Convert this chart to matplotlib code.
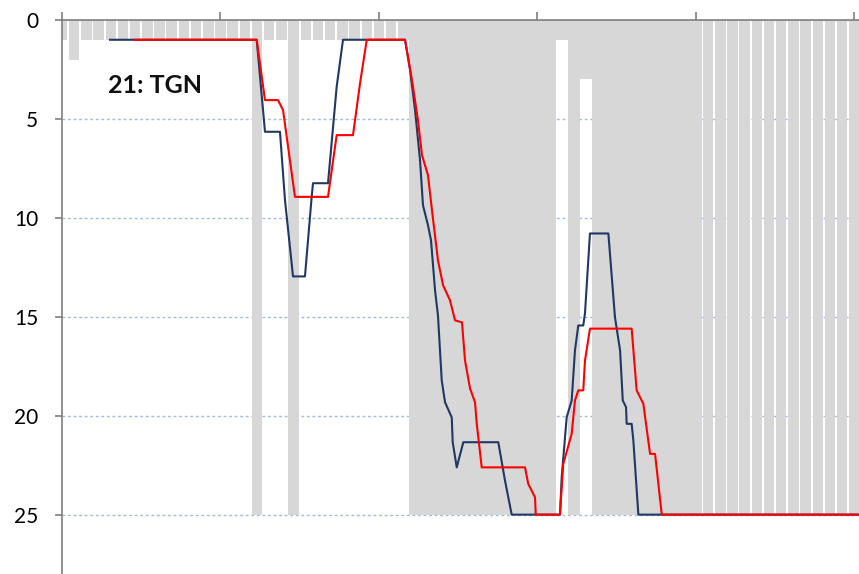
import matplotlib.pyplot as plt
from matplotlib.ticker import MultipleLocator

# one grey column per lap (depth measured from the top, 0 = top of chart)
laps = list(range(66))
grey_depth = [1, 2, 1, 1, 1, 1, 1, 1, 1, 1, 1, 1, 1, 1, 1, 1,
              25, 1, 1, 25, 1, 1, 1, 1, 1, 1, 1, 1, 1,
              25, 25, 25, 25, 25, 25, 25, 25, 25, 25, 25, 25,
              1, 25, 3,
              25, 25, 25, 25, 25, 25, 25, 25, 25, 25, 25, 25, 25, 25,
              25, 25, 25, 25, 25, 25, 25, 25]

# position traces (x in laps)
blue_x = [3.94, 15.97, 16.65, 17.88, 18.29, 18.95, 19.93, 20.48, 20.59, 21.82,
          22.53, 23.05, 28.14, 28.55, 28.96, 29.37, 29.61, 30.02, 30.27, 30.60,
          30.84, 31.15, 31.42, 31.83, 31.97, 32.05, 32.38, 32.92, 35.79, 36.34,
          36.89, 40.85, 40.99, 41.40, 41.81, 42.08, 42.35, 42.76, 42.90, 43.31,
          44.82, 45.36, 45.78, 46.00, 46.27, 46.32, 46.73, 46.87, 47.28, 66.0]
blue_y = [1, 1, 5.65, 5.65, 9.1, 12.96, 12.96, 8.94, 8.25, 8.25,
          3.38, 1, 1, 2.53, 4.55, 7.09, 9.36, 10.37, 11.13, 13.66,
          14.93, 18.22, 19.32, 19.89, 20.08, 21.34, 22.61, 21.34, 21.34, 23.28,
          25, 25, 23.11, 20.08, 19.23, 16.7, 15.44, 15.44, 14.83, 10.79,
          10.79, 15.02, 16.7, 19.23, 19.57, 20.41, 20.41, 21.26, 25, 25]

red_x = [5.99, 15.97, 16.65, 17.72, 18.13, 19.11, 21.82, 22.53, 23.87, 24.45,
         25.0, 28.14, 28.71, 29.20, 29.53, 30.02, 30.35, 30.84, 31.26, 31.83,
         32.24, 32.81, 33.06, 33.47, 33.88, 34.02, 34.43, 37.98, 38.25, 38.53,
         38.80, 38.86, 40.85, 41.12, 41.81, 42.08, 42.35, 42.76, 42.90, 43.31,
         46.73, 47.14, 47.69, 48.24, 48.65, 49.20, 66.0]
red_y = [1, 1, 4.05, 4.05, 4.55, 8.94, 8.94, 5.82, 5.82, 3.19,
         1, 1, 3.04, 5.06, 6.83, 7.84, 9.62, 12.15, 13.41, 14.17,
         15.18, 15.28, 17.21, 18.62, 19.32, 20.39, 22.61, 22.61, 23.45, 23.79,
         24.12, 25, 25, 22.43, 20.92, 19.23, 18.72, 18.72, 17.21, 15.6,
         15.6, 18.72, 19.4, 21.93, 21.93, 25, 25]

label = "21: TGN"

fig = plt.figure(figsize=(8.59, 5.74), dpi=100)
ax = fig.add_axes([0.0722, 0.0, 0.9278, 0.9652])

# columns in the dense middle stretch touch each other, the rest show thin gaps
widths = [1.0 if 29 <= k <= 52 else 0.86 for k in laps]
ax.bar(laps, grey_depth, width=widths, color='#d7d7d7', linewidth=0, zorder=1)
ax.plot(blue_x, blue_y, color='#1f3864', lw=1.5, zorder=3)
ax.plot(red_x, red_y, color='#ff0000', lw=1.5, zorder=4)

ax.text(3.75, 3.3, label, fontsize=18, fontweight='bold', family='Lato',
        ha='left', va='center', color='#111111', zorder=5)

ax.set_xlim(0, 65.38)
ax.set_ylim(28, 0)
ax.xaxis.set_major_locator(MultipleLocator(13))
ax.yaxis.set_major_locator(MultipleLocator(5))
ax.xaxis.tick_top()
ax.tick_params(axis='x', direction='out', length=6, width=1.2,
               color='#7f7f7f', labeltop=False, labelbottom=False)
ax.tick_params(axis='y', direction='out', length=5, width=1.2,
               color='#7f7f7f', pad=12, labelsize=15)
for t in ax.get_yticklabels():
    t.set_family('Lato')

ax.set_axisbelow(True)
ax.yaxis.grid(True, linestyle=(0, (2, 2)), color='#9dbbe6', lw=1)
for s in ['right', 'bottom']:
    ax.spines[s].set_visible(False)
for s in ['left', 'top']:
    ax.spines[s].set_color('#7f7f7f')
    ax.spines[s].set_linewidth(1.2)

fig.savefig("out.png", dpi=100)
